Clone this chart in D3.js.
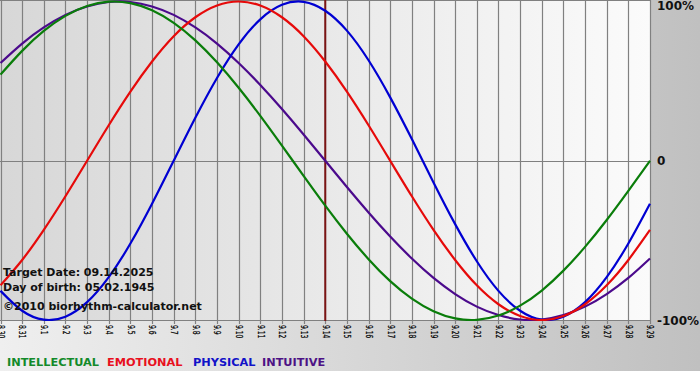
<!DOCTYPE html>
<html>
<head>
<meta charset="utf-8">
<script src="https://cdn.jsdelivr.net/npm/d3@7"></script>
<style>
  html, body { margin: 0; padding: 0; background: #ffffff; }
  svg { display: block; }
</style>
</head>
<body>
<svg id="chart" width="700" height="380"></svg>
<script>
// ---- data ----
const dates = ["8.30","8.31","9.1","9.2","9.3","9.4","9.5","9.6","9.7","9.8","9.9","9.10","9.11","9.12","9.13","9.14","9.15","9.16","9.17","9.18","9.19","9.20","9.21","9.22","9.23","9.24","9.25","9.26","9.27","9.28","9.29"];
const physical = [-81.7,-94.2,-99.8,-97.9,-88.8,-73.1,-52.0,-27.0,0,27.0,52.0,73.1,88.8,97.9,99.8,94.2,81.7,63.1,39.8,13.6,-13.6,-39.8,-63.1,-81.7,-94.2,-99.8,-97.9,-88.8,-73.1,-52.0,-27.0];
const emotional = [-78.2,-62.3,-43.4,-22.3,0,22.3,43.4,62.3,78.2,90.1,97.5,100,97.5,90.1,78.2,62.3,43.4,22.3,0,-22.3,-43.4,-62.3,-78.2,-90.1,-97.5,-100,-97.5,-90.1,-78.2,-62.3,-43.4];
const intellectual = [54.1,69.0,81.5,91.0,97.2,99.9,99.0,94.5,86.6,75.6,61.8,45.8,28.2,9.5,-9.5,-28.2,-45.8,-61.8,-75.6,-86.6,-94.5,-99.0,-99.9,-97.2,-91.0,-81.5,-69.0,-54.1,-37.2,-18.9,0];
const intuitive = [61.4,73.6,83.7,91.6,96.9,99.7,99.7,96.9,91.6,83.7,73.6,61.4,47.6,32.5,16.5,0,-16.5,-32.5,-47.6,-61.4,-73.6,-83.7,-91.6,-96.9,-99.7,-99.7,-96.9,-91.6,-83.7,-73.6,-61.4];
const targetDate = "9.14";
const yTicks = [100, 0, -100];
const yTickLabels = ["100%", "0", "-100%"];
const legendNames = ["INTELLECTUAL", "EMOTIONAL", "PHYSICAL", "INTUITIVE"];
const infoLines = ["Target Date: 09.14.2025", "Day of birth: 05.02.1945", "\u00A92010 biorhythm-calculator.net"];

// ---- drawing ----
const svg = d3.select("#chart");
const W = 700, H = 380;
const plot = { left: 0.5, right: 650, top: 1.5, bottom: 320 };

const defs = svg.append("defs");
const outerGrad = defs.append("linearGradient").attr("id", "outerGrad").attr("x1", "0").attr("x2", "1").attr("y1", "0").attr("y2", "0");
outerGrad.append("stop").attr("offset", "0").attr("stop-color", "#efefef");
outerGrad.append("stop").attr("offset", "1").attr("stop-color", "#c0c0c0");
const plotGrad = defs.append("linearGradient").attr("id", "plotGrad").attr("x1", "0").attr("x2", "1").attr("y1", "0").attr("y2", "0");
plotGrad.append("stop").attr("offset", "0").attr("stop-color", "#d7d7d7");
plotGrad.append("stop").attr("offset", "1").attr("stop-color", "#fbfbfb");
defs.append("clipPath").attr("id", "plotClip").append("rect")
  .attr("x", 0).attr("y", 0).attr("width", 651).attr("height", 321);

svg.append("rect").attr("x", 0).attr("y", 0).attr("width", W).attr("height", 371).attr("fill", "url(#outerGrad)");
svg.append("rect").attr("x", 0).attr("y", 0).attr("width", 651).attr("height", 320).attr("fill", "url(#plotGrad)");

const x = d3.scalePoint().domain(dates).range([plot.left, plot.right]);
const y = d3.scaleLinear().domain([-100, 100]).range([plot.bottom, plot.top]);

const grid = svg.append("g");
grid.selectAll("line.v").data(dates).enter().append("line")
  .attr("x1", d => Math.round(x(d)) + 0.5).attr("x2", d => Math.round(x(d)) + 0.5)
  .attr("y1", 0).attr("y2", 324)
  .attr("stroke", "#808080").attr("stroke-width", 1.2);
grid.selectAll("line.h").data([100, 0, -100]).enter().append("line")
  .attr("x1", 0).attr("x2", 651)
  .attr("y1", d => d === 100 ? 0.5 : Math.round(y(d)) + 0.5)
  .attr("y2", d => d === 100 ? 0.5 : Math.round(y(d)) + 0.5)
  .attr("stroke", "#808080").attr("stroke-width", 1.2);

// target date line
svg.append("line")
  .attr("x1", x(targetDate)).attr("x2", x(targetDate))
  .attr("y1", 0).attr("y2", 321)
  .attr("stroke", "#7a1414").attr("stroke-width", 2);

// x labels (rotated)
svg.append("g").selectAll("text").data(dates).enter().append("text")
  .attr("transform", d => `translate(${x(d) + 0.5},325) rotate(90)`)
  .attr("dy", "0.35em")
  .attr("font-family", "DejaVu Sans, Verdana, sans-serif")
  .attr("font-size", "9px")
  .attr("fill", "#000")
  .attr("stroke", "#000")
  .attr("stroke-width", 0.25)
  .attr("textLength", d => d.replace(".", "").length * 3.8 + 2)
  .attr("lengthAdjust", "spacingAndGlyphs")
  .text(d => d);

// y labels on the right
svg.append("g").selectAll("text").data(yTicks).enter().append("text")
  .attr("x", 657)
  .attr("y", (d, i) => y(d) + 4.5 + (i === 0 ? 4 : 0))
  .attr("font-family", "DejaVu Sans, Verdana, sans-serif")
  .attr("font-weight", "bold")
  .attr("font-size", "12px")
  .attr("fill", "#111")
  .text((d, i) => yTickLabels[i]);

// curves
const seriesList = [
  { name: "INTUITIVE", values: intuitive, color: "#4b0a8c" },
  { name: "PHYSICAL", values: physical, color: "#0000d2" },
  { name: "EMOTIONAL", values: emotional, color: "#e60a0a" },
  { name: "INTELLECTUAL", values: intellectual, color: "#0a7d0a" }
];
const line = d3.line()
  .x((d, i) => x(dates[i]))
  .y(d => y(d))
  .curve(d3.curveNatural);
svg.append("g").attr("clip-path", "url(#plotClip)")
  .selectAll("path").data(seriesList).enter().append("path")
  .attr("d", d => line(d.values))
  .attr("fill", "none")
  .attr("stroke", d => d.color)
  .attr("stroke-width", 2.2)
  .attr("stroke-linejoin", "round");

// info text
svg.append("g").selectAll("text").data(infoLines).enter().append("text")
  .attr("x", 3)
  .attr("y", (d, i) => [276, 291, 310][i])
  .attr("font-family", "DejaVu Sans, Verdana, sans-serif")
  .attr("font-weight", "bold")
  .attr("font-size", "11px")
  .attr("fill", "#111")
  .text(d => d);

// legend
const legendColors = { "INTELLECTUAL": "#138a2a", "EMOTIONAL": "#e8101e", "PHYSICAL": "#1212c8", "INTUITIVE": "#4d1285" };
const legendX = [7, 107, 193, 262];
svg.append("g").selectAll("text").data(legendNames).enter().append("text")
  .attr("x", (d, i) => legendX[i])
  .attr("y", 366)
  .attr("font-family", "DejaVu Sans, Verdana, sans-serif")
  .attr("font-weight", "bold")
  .attr("font-size", "11.3px")
  .attr("fill", d => legendColors[d])
  .text(d => d);
</script>
</body>
</html>
